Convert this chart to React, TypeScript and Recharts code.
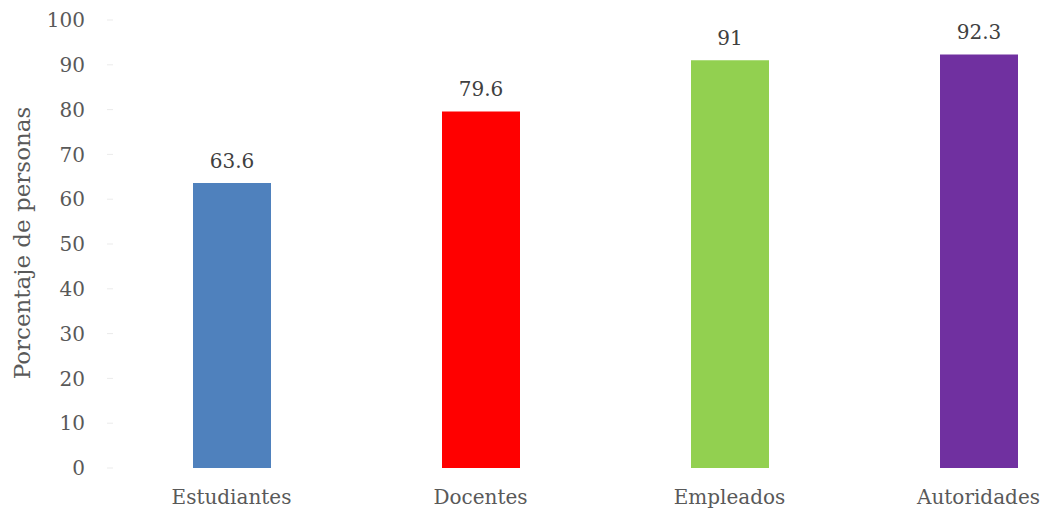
import React from 'react';
import { BarChart, Bar, XAxis, YAxis, Cell, LabelList } from 'recharts';

const categories = ['Estudiantes', 'Docentes', 'Empleados', 'Autoridades'];
const values = [63.6, 79.6, 91, 92.3];
const colors = ['#4F81BD', '#FF0000', '#92D050', '#7030A0'];
const yTicks = [0, 10, 20, 30, 40, 50, 60, 70, 80, 90, 100];
const yLabel = 'Porcentaje de personas';

const data = categories.map((c, i) => ({ name: c, value: values[i] }));

const FONT = '"DejaVu Serif", serif';

export default function App() {
  return (
    <div style={{ position: 'absolute', left: 0, top: 0, width: 1046, height: 515, overflow: 'hidden', background: '#fff' }}>
      <BarChart
        width={1103}
        height={515}
        data={data}
        margin={{ top: 20, right: 0, bottom: 0, left: 0 }}
      >
        <XAxis
          dataKey="name"
          axisLine={false}
          tickLine={false}
          tickSize={0}
          tickMargin={22}
          height={47}
          padding={{ left: -6, right: 0 }}
          tick={{ fill: '#595959', fontSize: 20, fontFamily: FONT }}
          interval={0}
        />
        <YAxis
          width={113}
          domain={[0, 100]}
          ticks={yTicks}
          interval={0}
          axisLine={false}
          tickLine={{ stroke: '#EBEBEB' }}
          tickSize={6}
          tickMargin={22}
          tick={{ fill: '#595959', fontSize: 20, fontFamily: FONT }}
          label={{
            content: () => (
              <text
                x={22}
                y={243}
                transform="rotate(-90 22 243)"
                textAnchor="middle"
                dominantBaseline="central"
                fill="#595959"
                fontSize={23}
                fontFamily={FONT}
              >
                {yLabel}
              </text>
            ),
          }}
        />
        <Bar dataKey="value" barSize={78} isAnimationActive={false}>
          {data.map((d, i) => (
            <Cell key={d.name} fill={colors[i]} />
          ))}
          <LabelList
            dataKey="value"
            position="top"
            offset={15}
            fill="#404040"
            fontSize={20}
            fontFamily={FONT}
          />
        </Bar>
      </BarChart>
    </div>
  );
}
